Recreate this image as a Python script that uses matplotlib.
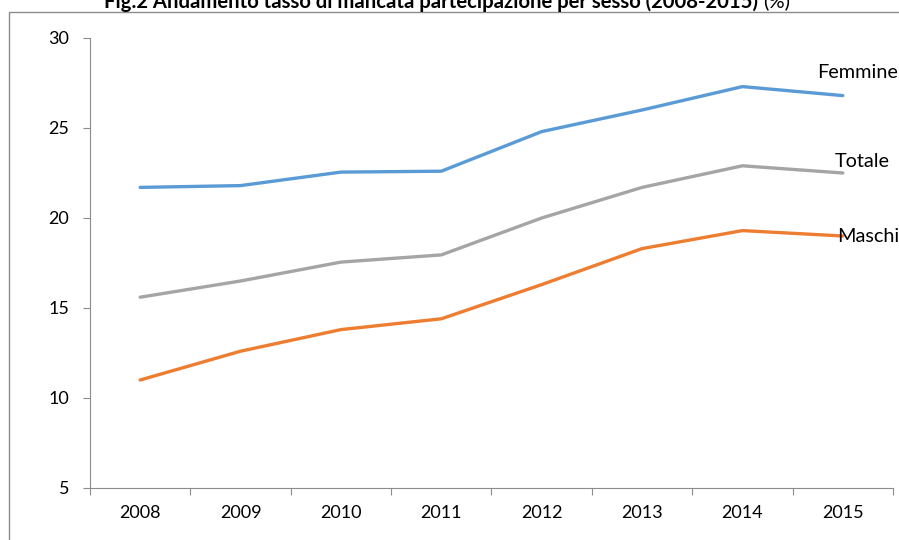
import matplotlib.pyplot as plt
from matplotlib.patches import Rectangle

# dati
anni = ['2008', '2009', '2010', '2011', '2012', '2013', '2014', '2015']
femmine = [21.7, 21.8, 22.55, 22.6, 24.8, 26.0, 27.3, 26.8]
totale = [15.6, 16.5, 17.55, 17.95, 20.0, 21.7, 22.9, 22.5]
maschi = [11.0, 12.6, 13.8, 14.4, 16.3, 18.3, 19.3, 19.0]

plt.rcParams['font.family'] = ['Lato', 'DejaVu Sans']

fig = plt.figure(figsize=(8.99, 5.40), dpi=100)
W, H = 899, 540

# bordo dell'area del grafico
fig.patches.append(Rectangle((9 / W, -0.1), 1.0, (H - 11.5) / H + 0.1,
                             transform=fig.transFigure, fill=False,
                             edgecolor='#8c8c8c', linewidth=1.0))

ax = fig.add_axes([90 / W, (H - 488) / H, 803 / W, 450 / H])

x = [i + 0.5 for i in range(len(anni))]
ax.plot(x, femmine, color='#5B9BD5', lw=2.4, solid_capstyle='round')
ax.plot(x, totale, color='#A5A5A5', lw=2.4, solid_capstyle='round')
ax.plot(x, maschi, color='#ED7D31', lw=2.4, solid_capstyle='round')

# etichette delle serie
ax.text(x[-1] - 0.26, femmine[-1] + 1.3, 'Femmine', fontsize=14.3, va='center', ha='left')
ax.text(x[-1] - 0.08, totale[-1] + 0.65, 'Totale', fontsize=14.3, va='center', ha='left')
ax.text(x[-1] - 0.06, maschi[-1] - 0.05, 'Maschi', fontsize=14.3, va='center', ha='left')

ax.set_xlim(0, len(anni))
ax.set_ylim(5, 30)
ax.set_yticks([5, 10, 15, 20, 25, 30])

ax.set_xticks(range(len(anni) + 1))
ax.set_xticklabels([])
ax.set_xticks(x, minor=True)
ax.set_xticklabels(anni, minor=True)
ax.tick_params(axis='x', which='minor', length=0, pad=12, labelsize=13)
ax.tick_params(axis='x', which='major', length=5, color='#8c8c8c', direction='out')
ax.tick_params(axis='y', length=5, color='#8c8c8c', direction='out', pad=10, labelsize=13)

for s in ['top', 'right']:
    ax.spines[s].set_visible(False)
for s in ['left', 'bottom']:
    ax.spines[s].set_color('#8c8c8c')

# titolo (tagliato in alto come nell'originale)
fig.text(758 / W, 1 - 7.5 / H, 'Fig.2 Andamento tasso di mancata partecipazione per sesso (2008-2015)',
         fontsize=14.6, fontweight='bold', ha='right', va='baseline')
fig.text(763 / W, 1 - 7.5 / H, '(%)', fontsize=14.6, ha='left', va='baseline')

fig.savefig('out.png', dpi=100)
